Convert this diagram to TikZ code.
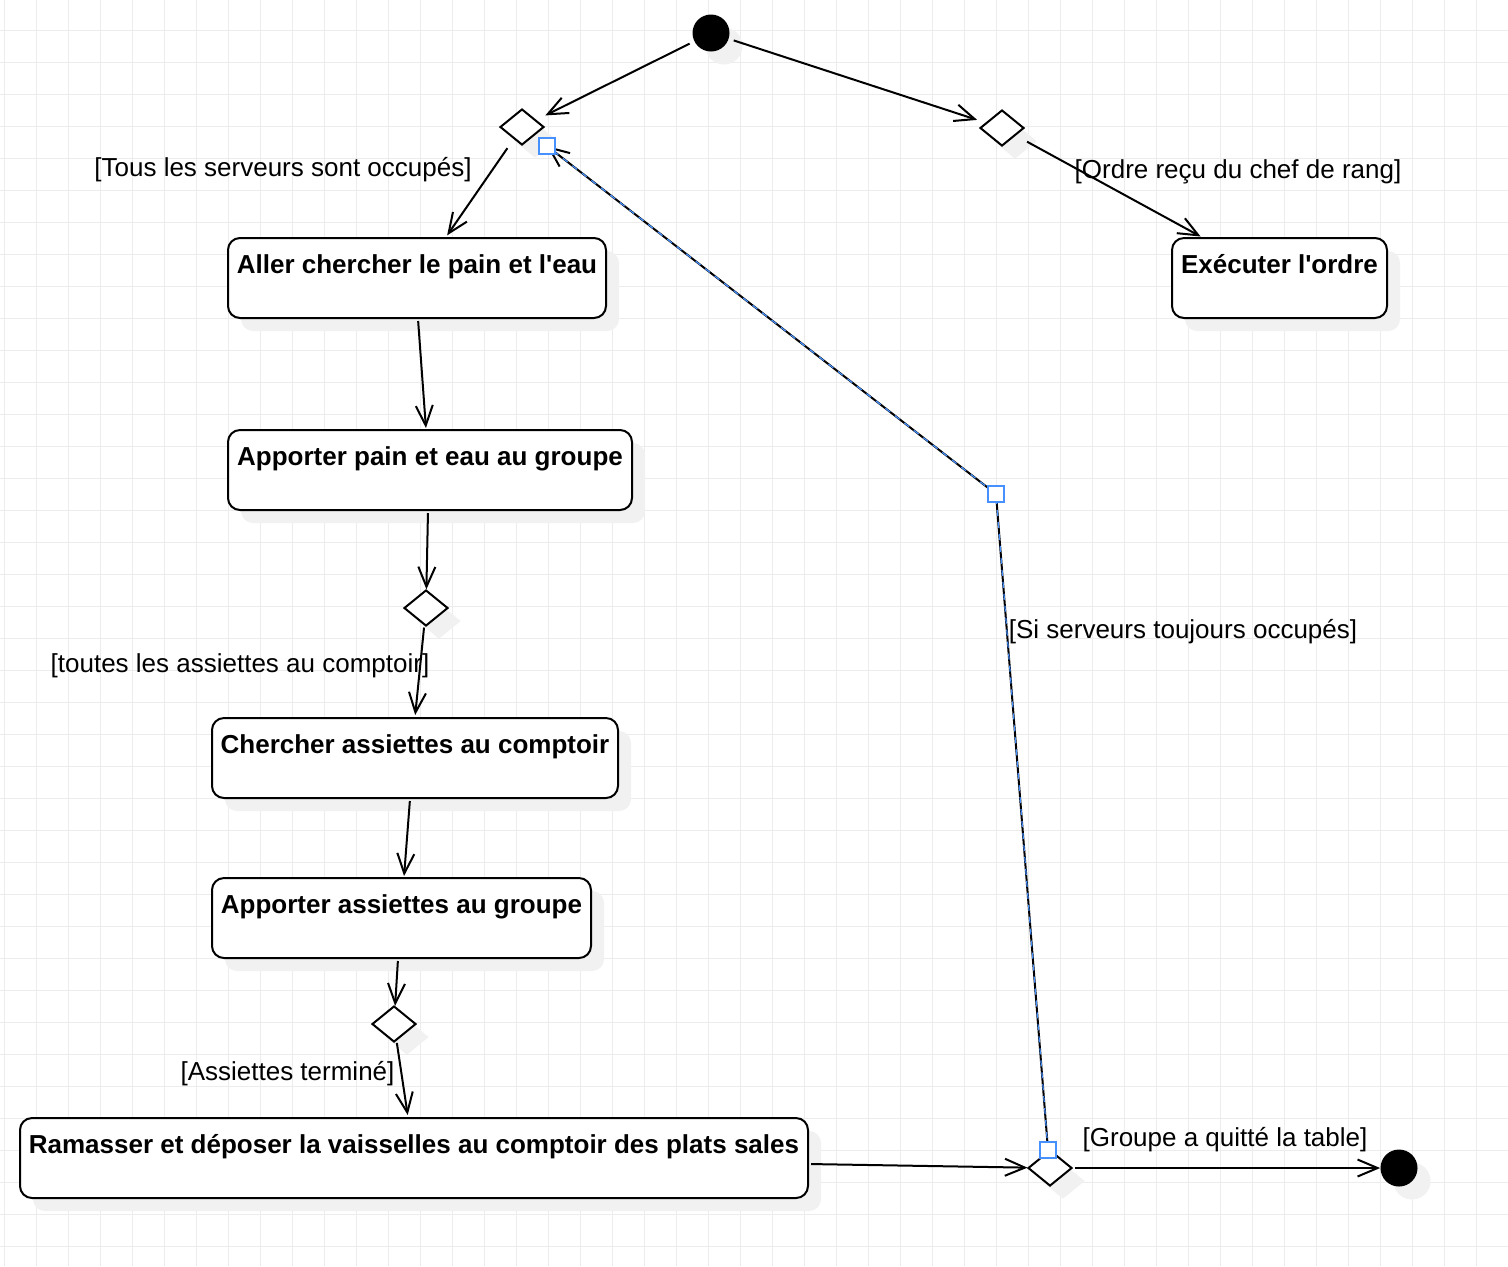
\documentclass[tikz,border=0pt]{standalone}
\usepackage{fontspec}
\setmainfont{Liberation Sans}
\usetikzlibrary{shapes.geometric,arrows.meta,shadows}

\definecolor{gridc}{RGB}{236,236,236}
\definecolor{shadowc}{RGB}{241,241,241}
\definecolor{selblue}{RGB}{70,145,255}

\begin{document}
\begin{tikzpicture}[x=0.5pt,y=-0.5pt,
  softshadow/.style={drop shadow={shadow xshift=6.5pt,shadow yshift=-6.5pt,fill=shadowc,opacity=1}},
  actbox/.style={draw,line width=1pt,rounded corners=6pt,fill=white,softshadow,
    font=\bfseries\fontsize{13}{15}\selectfont,inner ysep=0pt,
    text height=17.5pt,text depth=22.5pt,anchor=north},
  choice/.style={diamond,draw,line width=1pt,fill=white,softshadow,inner sep=0pt,
    minimum width=22pt,minimum height=18pt},
  terminal/.style={circle,fill=black,inner sep=0pt,minimum size=18.5pt,softshadow},
  guard/.style={font=\fontsize{13}{15}\selectfont,inner sep=0pt},
  flow/.style={line width=1pt,-{Straight Barb[length=10pt,width=8.5pt]}},
  handle/.style={draw=selblue,line width=1pt,fill=white,inner sep=0pt,minimum size=8pt}]

\useasboundingbox (0,0) rectangle (1508,1266);
\fill[white] (0,0) rectangle (1508,1266);

% background grid
\foreach \gx in {4,36,...,1508} \draw[gridc,line width=0.5pt] (\gx,0) -- (\gx,1266);
\foreach \gy in {30,62,...,1266} \draw[gridc,line width=0.5pt] (0,\gy) -- (1508,\gy);

% initial and final states
\node[terminal] (start) at (711,33) {};
\node[terminal] (end) at (1399,1168) {};

% decisions
\node[choice] (d1) at (522,127) {};
\node[choice] (d2) at (1002,128) {};
\node[choice] (d3) at (426,608) {};
\node[choice] (d4) at (394,1024) {};
\node[choice] (d5) at (1050,1168) {};

% activities
\node[actbox,minimum width=189pt] (aller) at (417,237) {Aller chercher le pain et l\textquotesingle eau};
\node[actbox,minimum width=107.5pt] (exec) at (1279.5,237) {Exécuter l\textquotesingle ordre};
\node[actbox,minimum width=202pt] (apport) at (430,429) {Apporter pain et eau au groupe};
\node[actbox,minimum width=203pt] (chercher) at (415,717) {Chercher assiettes au comptoir};
\node[actbox,minimum width=189.5pt] (assiettes) at (401.5,877) {Apporter assiettes au groupe};
\node[actbox,minimum width=394pt] (ramasser) at (414,1117) {Ramasser et déposer la vaisselles au comptoir des plats sales};

% guards
\node[guard] (g1) at (283,170) {[Tous les serveurs sont occupés]};
\node[guard] (g2) at (1238,172) {[Ordre reçu du chef de rang]};
\node[guard] (g3) at (240,666) {[toutes les assiettes au comptoir]};
\node[guard] (g4) at (287.5,1074) {[Assiettes terminé]};
\node[guard] (g5) at (1183,632) {[Si serveurs toujours occupés]};
\node[guard] (g6) at (1225,1140) {[Groupe a quitté la table]};

% transitions
\draw[flow,shorten <=2.5pt,shorten >=5pt] (start) -- (d1);
\draw[flow,shorten <=2.5pt,shorten >=4.4pt] (start) -- (d2);
\draw[flow,shorten <=5.5pt,shorten >=1pt] (d1) -- ([xshift=14.5pt]aller.north);
\draw[flow,shorten <=6.4pt,shorten >=0.5pt] (d2) -- ([xshift=-39pt]exec.north);
\draw[flow,shorten <=1pt,shorten >=0.5pt] ([xshift=0.5pt]aller.south) -- ([xshift=-2pt]apport.north);
\draw[flow,shorten <=1pt] ([xshift=-1pt]apport.south) -- (d3);
\draw[flow,shorten <=1pt,shorten >=1pt] (d3) -- (chercher.north);
\draw[flow,shorten <=1pt,shorten >=0.5pt] ([xshift=-2.5pt]chercher.south) -- ([xshift=1.25pt]assiettes.north);
\draw[flow,shorten <=1pt] ([xshift=-1.75pt]assiettes.south) -- (d4);
\draw[flow,shorten <=1pt,shorten >=1pt] (d4) -- ([xshift=-3pt]ramasser.north);
\draw[flow,shorten <=1pt] ([yshift=-3pt]ramasser.east) -- (d5);
\draw[flow,shorten <=1pt] (d5) -- (end);

% loop back while the servers stay busy (selected edge)
\coordinate (loopstart) at ([shift={(-2,1)}]d5.north);
\coordinate (bend) at (996,494);
\coordinate (looptip) at ([shift={(2,19)}]d1.east);
\draw[flow] (loopstart) -- (bend) -- (looptip);
\draw[selblue,line width=0.6pt,dash pattern=on 3pt off 3pt] (loopstart) -- (bend) -- (looptip);
\node[handle] (h1) at (looptip) {};
\node[handle] (h2) at (bend) {};
\node[handle] (h3) at (loopstart) {};

\end{tikzpicture}
\end{document}
